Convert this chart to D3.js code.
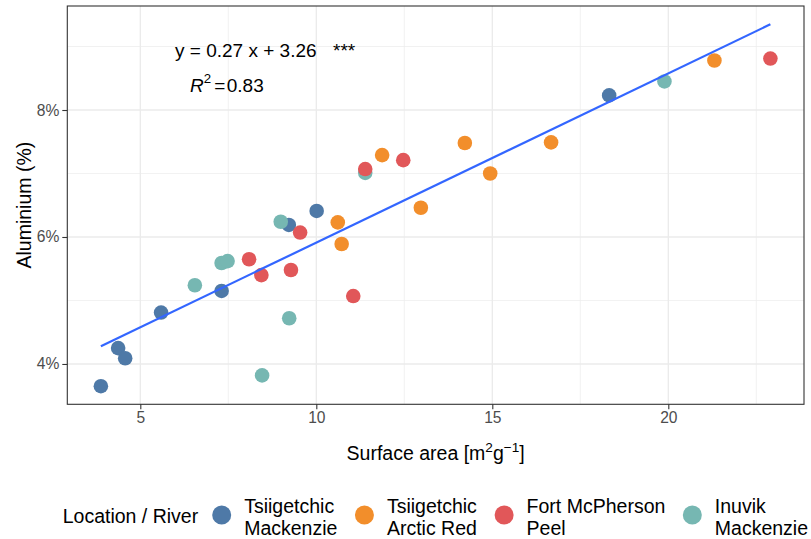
<!DOCTYPE html>
<html>
<head>
<meta charset="utf-8">
<script src="https://cdn.jsdelivr.net/npm/d3@7"></script>
<style>
  body { margin: 0; background: #fff; }
  svg text { font-family: "Liberation Sans", Arial, sans-serif; }
</style>
</head>
<body>
<svg width="811" height="539"></svg>
<script>
// Series data: surface area (x) and aluminium % (y)
const tsiigetchicMackenzie = [
  [3.88, 3.65], [4.37, 4.25], [4.57, 4.09], [5.59, 4.81],
  [7.31, 5.15], [9.22, 6.19], [10.01, 6.41], [18.32, 8.23]
];
const tsiigetchicArcticRed = [
  [10.61, 6.23], [10.72, 5.89], [11.87, 7.29], [14.22, 7.48],
  [14.94, 7.0], [12.97, 6.46], [16.67, 7.49], [21.31, 8.78]
];
const fortMcPhersonPeel = [
  [8.09, 5.65], [8.44, 5.40], [9.28, 5.48], [9.54, 6.07],
  [11.05, 5.07], [11.39, 7.07], [12.47, 7.21], [22.90, 8.81]
];
const inuvikMackenzie = [
  [6.55, 5.24], [7.31, 5.59], [7.48, 5.62], [8.99, 6.24],
  [9.23, 4.72], [8.46, 3.82], [11.39, 7.01], [19.89, 8.45]
];

// Legend labels (two lines each), legend order
const seriesLabels = [
  ["Tsiigetchic", "Mackenzie"],
  ["Tsiigetchic", "Arctic Red"],
  ["Fort McPherson", "Peel"],
  ["Inuvik", "Mackenzie"]
];
const seriesColors = ["#4E79A7", "#F28E2B", "#E15759", "#76B7B2"];

// Fitted line end points (as drawn)
const fitLine = [[3.88, 4.28], [22.90, 9.35]];

const xTicks = [5, 10, 15, 20];
const xMinor = [7.5, 12.5, 17.5, 22.5];
const yTicks = [4, 6, 8];
const yMinor = [5, 7, 9];

const svg = d3.select("svg");
const panel = { left: 67.3, right: 804, top: 6, bottom: 404.3 };

const x = d3.scaleLinear().domain([2.926, 23.855]).range([panel.left, panel.right]);
const y = d3.scaleLinear().domain([3.365, 9.638]).range([panel.bottom, panel.top]);

// grid lines
const grid = svg.append("g");
grid.selectAll(".xminor").data(xMinor).join("line")
  .attr("x1", d => x(d)).attr("x2", d => x(d))
  .attr("y1", panel.top).attr("y2", panel.bottom)
  .attr("stroke", "#EBEBEB").attr("stroke-width", 0.7);
grid.selectAll(".yminor").data(yMinor).join("line")
  .attr("y1", d => y(d)).attr("y2", d => y(d))
  .attr("x1", panel.left).attr("x2", panel.right)
  .attr("stroke", "#EBEBEB").attr("stroke-width", 0.7);
grid.selectAll(".xmajor").data(xTicks).join("line")
  .attr("x1", d => x(d)).attr("x2", d => x(d))
  .attr("y1", panel.top).attr("y2", panel.bottom)
  .attr("stroke", "#EBEBEB").attr("stroke-width", 1.3);
grid.selectAll(".ymajor").data(yTicks).join("line")
  .attr("y1", d => y(d)).attr("y2", d => y(d))
  .attr("x1", panel.left).attr("x2", panel.right)
  .attr("stroke", "#EBEBEB").attr("stroke-width", 1.3);

// points: draw order blue, teal, orange, red
const drawOrder = [0, 3, 1, 2];
const allSeries = [tsiigetchicMackenzie, tsiigetchicArcticRed, fortMcPhersonPeel, inuvikMackenzie];
drawOrder.forEach(i => {
  svg.append("g").selectAll("circle").data(allSeries[i]).join("circle")
    .attr("cx", d => x(d[0]))
    .attr("cy", d => y(d[1]))
    .attr("r", 7.3)
    .attr("fill", seriesColors[i]);
});

// regression line
svg.append("path")
  .datum(fitLine)
  .attr("d", d3.line().x(d => x(d[0])).y(d => y(d[1])))
  .attr("fill", "none")
  .attr("stroke", "#3366FF")
  .attr("stroke-width", 2.2);

// panel border
svg.append("rect")
  .attr("x", panel.left).attr("y", panel.top)
  .attr("width", panel.right - panel.left)
  .attr("height", panel.bottom - panel.top)
  .attr("fill", "none").attr("stroke", "#333333").attr("stroke-width", 1.1);

// axes
const xAxis = svg.append("g")
  .attr("transform", `translate(0,${panel.bottom})`)
  .call(d3.axisBottom(x).tickValues(xTicks).tickSize(5).tickPadding(3));
const yAxis = svg.append("g")
  .attr("transform", `translate(${panel.left},0)`)
  .call(d3.axisLeft(y).tickValues(yTicks).tickSize(5).tickPadding(3).tickFormat(d => d + "%"));
[xAxis, yAxis].forEach(a => {
  a.select(".domain").remove();
  a.selectAll(".tick line").attr("stroke", "#333333").attr("stroke-width", 1.1);
  a.selectAll(".tick text").attr("fill", "#4D4D4D")
    .style("font-size", "15.6px")
    .style("font-family", "'Liberation Sans', Arial, sans-serif");
});

// axis titles
const xt = svg.append("text")
  .attr("x", (panel.left + panel.right) / 2).attr("y", 460)
  .attr("text-anchor", "middle").style("font-size", "19.5px").attr("fill", "#000");
xt.append("tspan").text("Surface area [m");
xt.append("tspan").attr("dy", -8).style("font-size", "13.6px").text("2");
xt.append("tspan").attr("dy", 8).text("g");
xt.append("tspan").attr("dy", -8).style("font-size", "13.6px").text("\u22121");
xt.append("tspan").attr("dy", 8).text("]");

svg.append("text")
  .attr("transform", `translate(30.5,${(panel.top + panel.bottom) / 2}) rotate(-90)`)
  .attr("text-anchor", "middle").style("font-size", "19.5px").attr("fill", "#000")
  .text("Aluminium (%)");

// regression annotation
svg.append("text").attr("x", 175).attr("y", 56.7)
  .style("font-size", "19px").text("y = 0.27 x + 3.26");
svg.append("text").attr("x", 333).attr("y", 56.7)
  .style("font-size", "19px").text("***");
const r2 = svg.append("text").attr("x", 190).attr("y", 91.7).style("font-size", "19px");
r2.append("tspan").style("font-style", "italic").text("R");
r2.append("tspan").attr("dy", -9).style("font-size", "13.3px").text("2");
r2.append("tspan").attr("dy", 9).attr("dx", 3).text("=");
r2.append("tspan").attr("dx", 1.5).text("0.83");

// legend
svg.append("text").attr("x", 62.7).attr("y", 523)
  .style("font-size", "19.5px").text("Location / River");
let cx = 221.7;
seriesLabels.forEach((lab, i) => {
  svg.append("circle").attr("cx", cx).attr("cy", 515).attr("r", 9.5).attr("fill", seriesColors[i]);
  const t = svg.append("text").attr("x", cx + 22.5).attr("y", 513.3).style("font-size", "19.5px");
  t.append("tspan").attr("x", cx + 22.5).text(lab[0]);
  t.append("tspan").attr("x", cx + 22.5).attr("dy", 21.9).text(lab[1]);
  cx += 22.5 + t.node().getBBox().width + 27;
});
</script>
</body>
</html>
